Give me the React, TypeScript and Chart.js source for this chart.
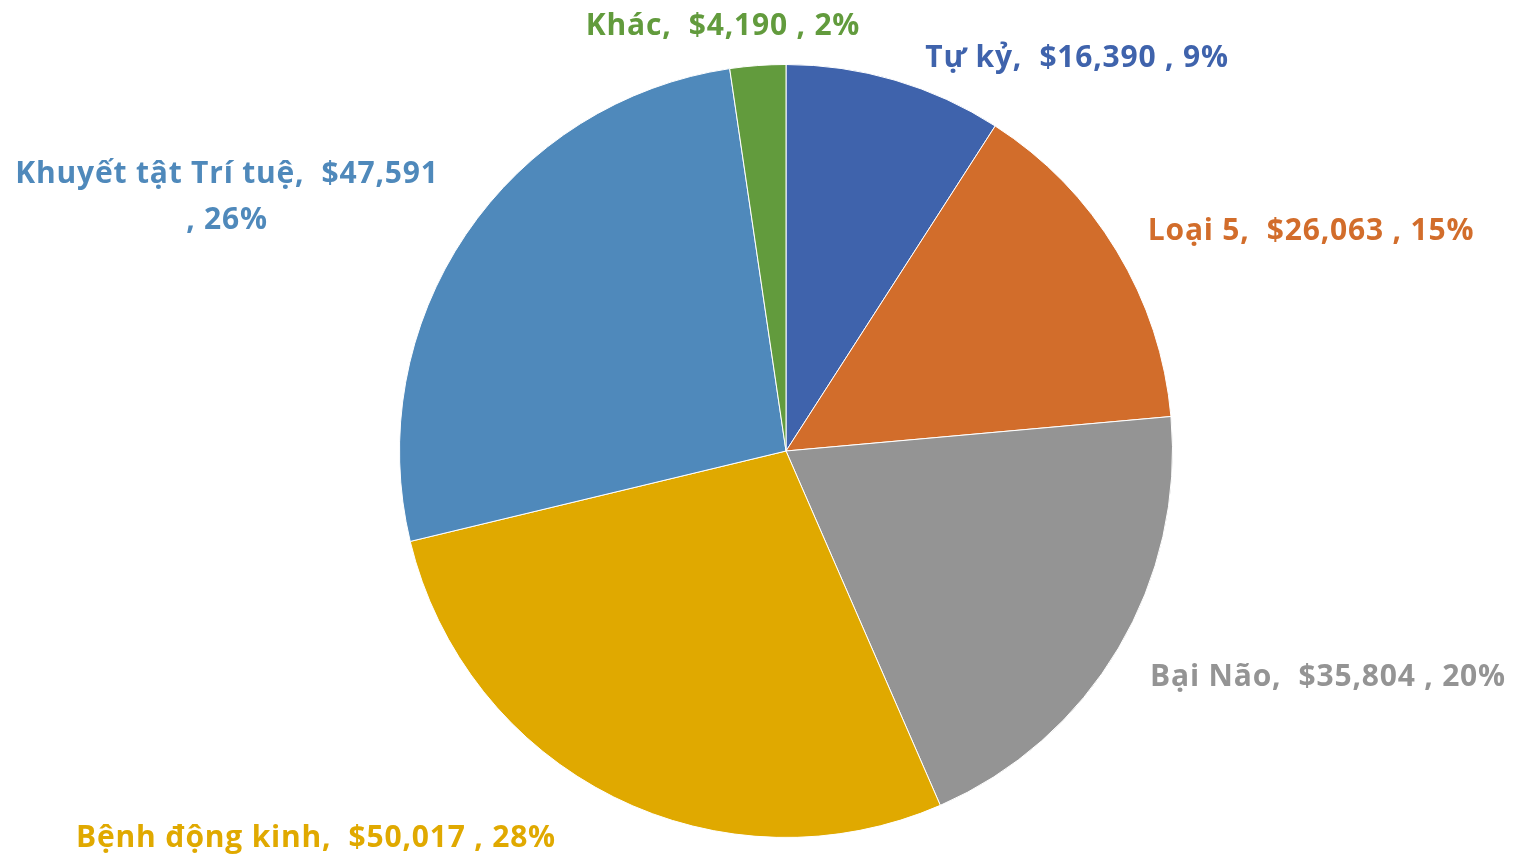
import React, { useEffect, useRef } from "react";
import { Chart, registerables } from "chart.js";

Chart.register(...registerables);

const categories = ["Tự kỷ", "Loại 5", "Bại Não", "Bệnh động kinh", "Khuyết tật Trí tuệ", "Khác"];
const values = [16390, 26063, 35804, 50017, 47591, 4190];
const valueLabels = ["$16,390", "$26,063", "$35,804", "$50,017", "$47,591", "$4,190"];
const percentLabels = ["9%", "15%", "20%", "28%", "26%", "2%"];
const colors = ["#3F63AC", "#D26D2B", "#949494", "#E0A900", "#4F89BB", "#629B3D"];

// label layout: center positions (px) of each text line
const labelLayout = [
  [[1077, 58]],
  [[1311, 231]],
  [[1328, 677]],
  [[316, 838]],
  [[227, 174], [227, 220]],
  [[723, 26]],
];

export default function App() {
  const ref = useRef<HTMLCanvasElement>(null);
  useEffect(() => {
    document.body.style.margin = "0";
    const labelPlugin = {
      id: "labels",
      afterDraw(chart: any) {
        const ctx = chart.ctx;
        ctx.save();
        ctx.font = "bold 30px 'Open Sans', Lato, sans-serif";
        (ctx as any).letterSpacing = "0.8px";
        ctx.textAlign = "center";
        ctx.textBaseline = "middle";
        categories.forEach((c, i) => {
          ctx.fillStyle = colors[i];
          const lay = labelLayout[i];
          if (lay.length === 1) {
            ctx.fillText(`${c},  ${valueLabels[i]} , ${percentLabels[i]}`, lay[0][0], lay[0][1]);
          } else {
            ctx.fillText(`${c},  ${valueLabels[i]}`, lay[0][0], lay[0][1]);
            ctx.fillText(`, ${percentLabels[i]}`, lay[1][0], lay[1][1]);
          }
        });
        ctx.restore();
      },
    };
    const chart = new Chart(ref.current!, {
      type: "pie",
      data: {
        labels: categories,
        datasets: [
          {
            data: values,
            backgroundColor: colors,
            borderColor: "#ffffff",
            borderWidth: 1,
          },
        ],
      },
      options: {
        animation: false,
        responsive: true,
        maintainAspectRatio: false,
        layout: { padding: { left: 55, right: 0, top: 64, bottom: 20 } },
        plugins: { legend: { display: false }, tooltip: { enabled: false } },
      },
      plugins: [labelPlugin],
    });
    return () => chart.destroy();
  }, []);
  return (
    <div style={{ position: "relative", width: 1517, height: 858, background: "#fff" }}>
      <canvas ref={ref} />
    </div>
  );
}
